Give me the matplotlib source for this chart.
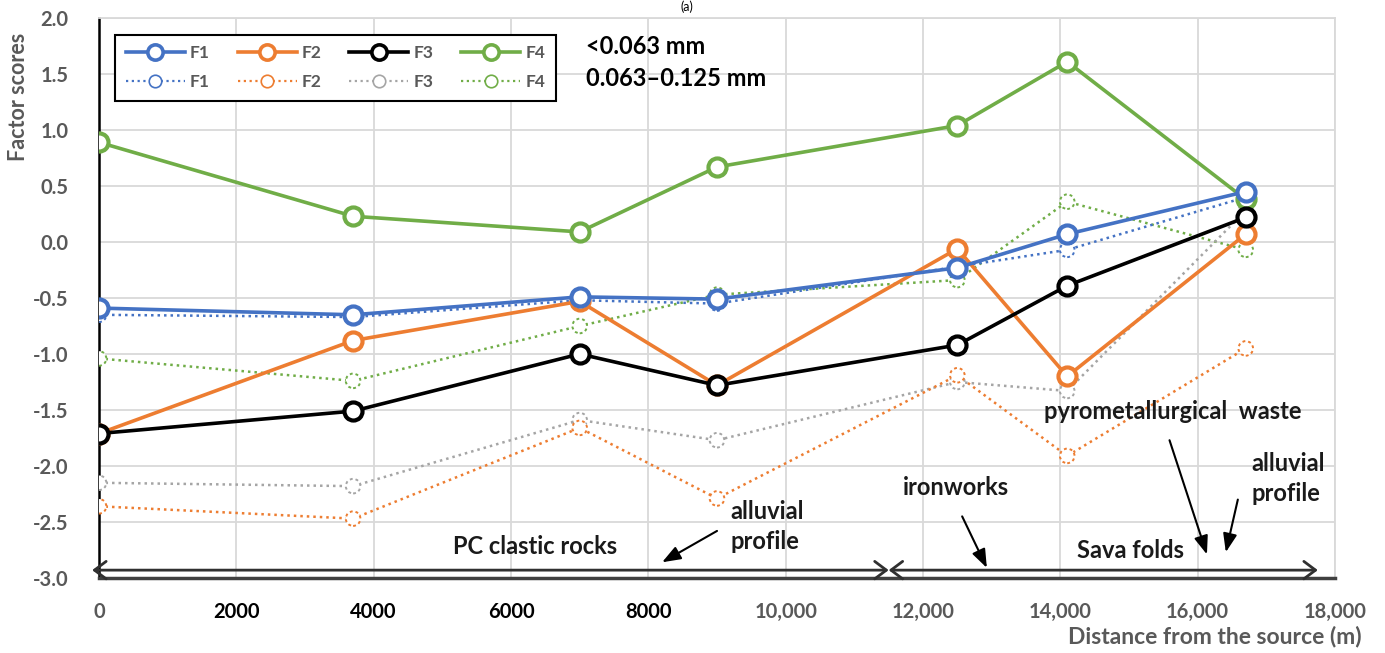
import numpy as np
import matplotlib
matplotlib.use('Agg')
import matplotlib.pyplot as plt
from matplotlib.lines import Line2D

plt.rcParams['font.family'] = ['Lato', 'DejaVu Sans']

# Sampling sites along the river (m from source)
distance = [0, 3700, 7000, 9000, 12500, 14100, 16700]

# Factor scores, <0.063 mm fraction
f1_fine = [-0.59, -0.65, -0.49, -0.51, -0.23, 0.07, 0.45]
f2_fine = [-1.71, -0.88, -0.53, -1.28, -0.06, -1.20, 0.07]
f3_fine = [-1.71, -1.51, -1.00, -1.28, -0.92, -0.39, 0.22]
f4_fine = [0.89, 0.23, 0.09, 0.67, 1.04, 1.61, 0.38]

# Factor scores, 0.063-0.125 mm fraction
f1_coarse = [-0.65, -0.67, -0.52, -0.55, -0.22, -0.07, 0.40]
f2_coarse = [-2.36, -2.47, -1.66, -2.29, -1.19, -1.91, -0.95]
f3_coarse = [-2.15, -2.18, -1.59, -1.77, -1.25, -1.33, 0.28]
f4_coarse = [-1.04, -1.24, -0.75, -0.47, -0.34, 0.36, -0.07]

factor_names = ['F1', 'F2', 'F3', 'F4']
x_ticks = [0, 2000, 4000, 6000, 8000, 10000, 12000, 14000, 16000, 18000]
x_labels = ['0', '2000', '4000', '6000', '8000', '10,000', '12,000', '14,000', '16,000', '18,000']
y_ticks = np.arange(-3.0, 2.01, 0.5)

fine = [f1_fine, f2_fine, f3_fine, f4_fine]
coarse = [f1_coarse, f2_coarse, f3_coarse, f4_coarse]
solid_colors = ['#4472C4', '#ED7D31', '#000000', '#70AD47']
dot_colors = ['#4472C4', '#ED7D31', '#A5A5A5', '#70AD47']
gray = '#595959'

fig = plt.figure(figsize=(13.85, 6.53), dpi=100)
ax = fig.add_axes([0.0715, 0.1149, 0.8924, 0.8575])

# dotted series underneath
for i in [3, 2, 1, 0]:
    ax.plot(distance, coarse[i], ls=(0, (1, 1.6)), lw=1.8, color=dot_colors[i], zorder=3)
    ax.scatter(distance, coarse[i], s=110, facecolors='white', edgecolors=dot_colors[i],
               linewidths=1.4, linestyles=(0, (1.5, 1.5)), zorder=4)

# solid series on top
for i in [3, 1, 2, 0]:
    ax.plot(distance, fine[i], '-o', lw=2.6, color=solid_colors[i], ms=13,
            mfc='white', mec=solid_colors[i], mew=3, zorder=5)

ax.set_xlim(0, 18000)
ax.set_ylim(-3, 2)
ax.set_xticks(x_ticks)
ax.set_xticklabels(x_labels)
ax.set_yticks(y_ticks)
ax.set_yticklabels([f'{v:.1f}' for v in y_ticks])
ax.tick_params(length=0, labelsize=14.5)
ax.tick_params(axis='x', pad=17)
ax.tick_params(axis='y', pad=22)
for lbl in ax.get_xticklabels() + ax.get_yticklabels():
    lbl.set_fontweight('bold')
    lbl.set_color(gray)
for lbl in ax.get_xticklabels()[1:5]:
    lbl.set_color('black')

ax.grid(True, color='#D9D9D9', lw=1.3)
ax.set_axisbelow(True)
ax.spines['top'].set_color('#D9D9D9')
ax.spines['right'].set_color('#D9D9D9')
ax.spines['top'].set_linewidth(1.3)
ax.spines['right'].set_linewidth(1.3)
ax.spines['left'].set_color('black')
ax.spines['left'].set_linewidth(1.8)
ax.spines['bottom'].set_color('#404040')
ax.spines['bottom'].set_linewidth(2.5)

fig.text(0.013, 0.851, 'Factor scores', fontsize=15.5, color=gray, fontweight='bold',
         rotation=90, ha='center', va='center')
fig.text(0.983, 0.025, 'Distance from the source (m)', fontsize=16.5, color=gray,
         fontweight='bold', ha='right', va='center')

# legend: solid row over dotted row
handles = []
labels = []
for i in range(4):
    handles.append(Line2D([], [], color=solid_colors[i], lw=2.6, marker='o', ms=11,
                          mfc='white', mec=solid_colors[i], mew=2.6))
    labels.append(factor_names[i])
    handles.append(Line2D([], [], color=dot_colors[i], lw=1.6, ls=(0, (1, 1.6)), marker='o',
                          ms=9, mfc='white', mec=dot_colors[i], mew=1.2))
    labels.append(factor_names[i])
leg = ax.legend(handles, labels, ncol=4, loc='upper left', bbox_to_anchor=(0.013, 0.970),
                borderaxespad=0, frameon=True, fancybox=False, edgecolor='black', framealpha=1,
                handlelength=3.4, columnspacing=1.6, handletextpad=0.3,
                labelspacing=0.75, borderpad=0.6, prop={'size': 12.5, 'weight': 'bold'})
leg.get_frame().set_linewidth(1.5)
for t in leg.get_texts():
    t.set_color(gray)

ax.text(7090, 1.75, '<0.063 mm', fontsize=17, fontweight='bold', va='center', ha='left')
ax.text(7090, 1.46, '0.063\u20130.125 mm', fontsize=17, fontweight='bold', va='center', ha='left')

fig.text(0.496, 0.999, '(a)', fontsize=9, ha='center', va='top')

# geological units along the profile
span = dict(arrowstyle='<->,head_length=0.6,head_width=0.45', color='#303030', lw=2,
            shrinkA=0, shrinkB=0, mutation_scale=14)
ax.annotate('', xy=(-100, -2.93), xytext=(11500, -2.93), arrowprops=span, annotation_clip=False)
ax.annotate('', xy=(11500, -2.93), xytext=(17750, -2.93), arrowprops=span, annotation_clip=False)

pointer = dict(arrowstyle='-|>,head_length=0.8,head_width=0.3', color='black', lw=1.5,
               shrinkA=0, shrinkB=0, mutation_scale=14)
txt = dict(fontsize=17, fontweight='bold', color='#1a1a1a')

ax.text(6350, -2.72, 'PC clastic rocks', ha='center', va='center', **txt)
ax.text(9190, -2.54, 'alluvial\nprofile', ha='left', va='center', linespacing=1.35, **txt)
ax.annotate('', xy=(8200, -2.86), xytext=(9000, -2.58), arrowprops=pointer)

ax.text(12480, -2.19, 'ironworks', ha='center', va='center', **txt)
ax.annotate('', xy=(12930, -2.91), xytext=(12570, -2.45), arrowprops=pointer)

ax.text(15630, -1.51, 'pyrometallurgical  waste', ha='center', va='center', **txt)
ax.annotate('', xy=(16135, -2.79), xytext=(15590, -1.77), arrowprops=pointer)

ax.text(16780, -2.11, 'alluvial\nprofile', ha='left', va='center', linespacing=1.35, **txt)
ax.annotate('', xy=(16410, -2.77), xytext=(16585, -2.30), arrowprops=pointer)

ax.text(15020, -2.755, 'Sava folds', ha='center', va='center', **txt)

fig.savefig('out.png', dpi=100)
